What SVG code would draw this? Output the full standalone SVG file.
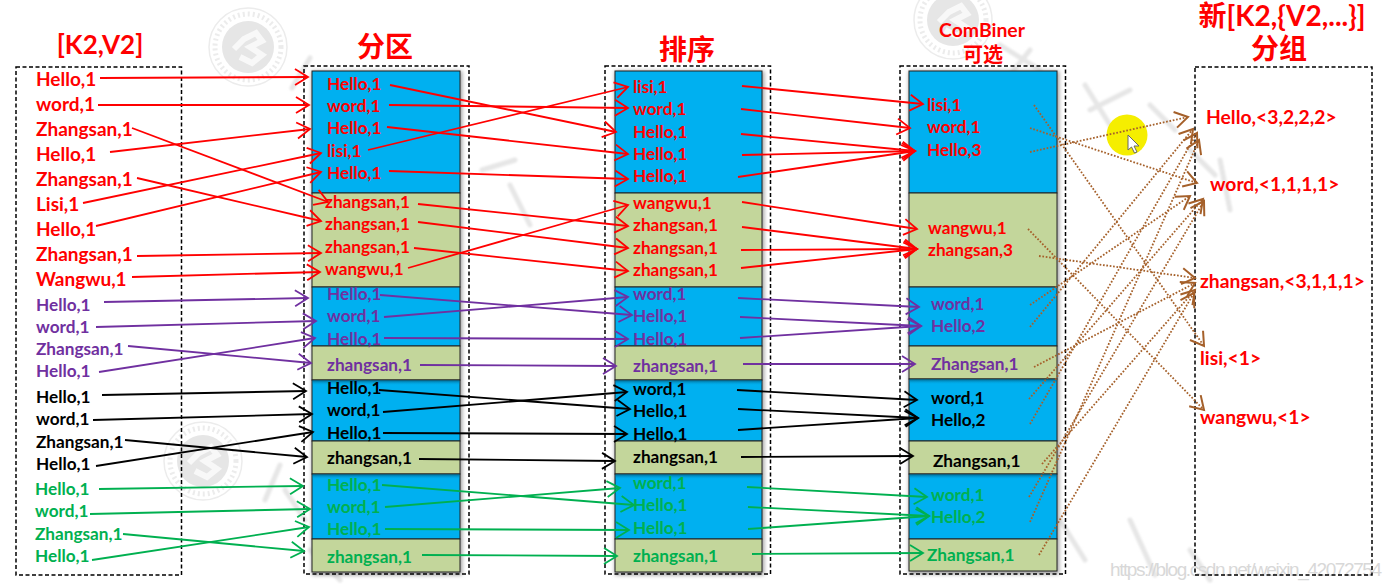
<svg xmlns="http://www.w3.org/2000/svg" width="1391" height="584" viewBox="0 0 1391 584">
<style>
text{font-family:"Lato","Liberation Sans","Noto Sans CJK SC",sans-serif;font-weight:700}
.t{font-family:"Noto Sans CJK SC","Liberation Sans",sans-serif;font-weight:700;fill:#f00;text-anchor:middle}
.r{fill:#f00}.p{fill:#7030a0}.k{fill:#000}.g{fill:#00b050}
.big{font-size:19px}.mid{font-size:17.2px}.res{font-size:19.3px}
.dash{fill:none;stroke:#000;stroke-width:1.5;stroke-dasharray:4 2.5}
.blue{fill:#00b0f0;stroke:#222;stroke-width:1}
.olive{fill:#c3d69b;stroke:#222;stroke-width:1}
.shade{fill:#999;filter:url(#blur)}
.top{fill:url(#topshade)}
.wm{fill:none;stroke:#e6e6e6;stroke-width:5;stroke-linecap:round;filter:url(#soft)}
.seal{fill:none;stroke:#ececec}
#cr path{stroke:#f00;marker-end:url(#mr)}#cp path{stroke:#7030a0;marker-end:url(#mp)}
#ck path{stroke:#000;marker-end:url(#mk)}#cg path{stroke:#00b050;marker-end:url(#mg)}
#cb path{stroke:#a5602a;stroke-dasharray:1.7 1.7;stroke-width:1.9;marker-end:url(#mb)}
#connectors path{fill:none;stroke-width:1.8}
</style>
<defs>
<filter id="blur" x="-10%" y="-10%" width="120%" height="120%"><feGaussianBlur stdDeviation="2"/></filter>
<filter id="soft" x="-5%" y="-5%" width="110%" height="110%"><feGaussianBlur stdDeviation="1"/></filter>
<linearGradient id="topshade" x1="0" y1="0" x2="0" y2="1"><stop offset="0" stop-color="#03506f" stop-opacity=".7"/><stop offset="1" stop-color="#00b0f0" stop-opacity="0"/></linearGradient>
<marker id="mr" markerUnits="userSpaceOnUse" markerWidth="18" markerHeight="20" refX="15" refY="10" orient="auto"><path d="M2 2L15 10L2 18" fill="none" stroke="#f00" stroke-width="1.8"/></marker>
<marker id="mp" markerUnits="userSpaceOnUse" markerWidth="18" markerHeight="20" refX="15" refY="10" orient="auto"><path d="M2 2L15 10L2 18" fill="none" stroke="#7030a0" stroke-width="1.8"/></marker>
<marker id="mk" markerUnits="userSpaceOnUse" markerWidth="18" markerHeight="20" refX="15" refY="10" orient="auto"><path d="M2 2L15 10L2 18" fill="none" stroke="#000" stroke-width="1.8"/></marker>
<marker id="mg" markerUnits="userSpaceOnUse" markerWidth="18" markerHeight="20" refX="15" refY="10" orient="auto"><path d="M2 2L15 10L2 18" fill="none" stroke="#00b050" stroke-width="1.8"/></marker>
<marker id="mb" markerUnits="userSpaceOnUse" markerWidth="18" markerHeight="20" refX="15" refY="10" orient="auto"><path d="M2 2L15 10L2 18" fill="none" stroke="#a5602a" stroke-width="2"/></marker>
<g id="sealmark"><circle r="39" class="seal" stroke-width="1.5"/><circle r="33" class="seal" stroke-width="5" stroke-dasharray="2 3"/><circle r="26" fill="#e6e6e6"/><path d="M-14 2L-4 -8L8 -14L14 -6L2 0L14 8L4 16L-8 10" fill="none" stroke="#f8f8f8" stroke-width="6"/></g>
</defs>

<g id="watermark">
<use href="#sealmark" x="248" y="47"/>
<use href="#sealmark" x="203" y="461"/>
<use href="#sealmark" x="953" y="20"/>
<path class="wm" d="M310 58L292 88M345 98L335 125M482 170L515 160M510 185L530 225M1030 50L1010 75M1000 45L1040 70M1085 85L1110 125M1090 110L1130 90M1150 105L1175 130M1190 150L1215 175M1220 160L1230 210M1060 520L1085 560M1130 520L1155 575M1190 550L1210 580M280 465L265 500M285 490L305 520M310 550L340 580"/>
<text x="1110" y="576" font-size="19" style="font-family:'Liberation Sans',sans-serif;font-weight:400" fill="#d8d8d8" textLength="272">https://blog.csdn.net/weixin_42072754</text>
</g>

<g id="titles">
<text class="t" x="100" y="54" font-size="26" style="font-family:Lato,sans-serif">[K2,V2]</text>
<text class="t" x="385" y="57" font-size="28">分区</text>
<text class="t" x="687" y="60" font-size="28">排序</text>
<text class="t" x="982" y="37" font-size="19.400" style="font-family:Lato,sans-serif">ComBiner</text>
<text class="t" x="983" y="62" font-size="20">可选</text>
<text class="t" x="1282" y="26" font-size="28" style="font-family:Lato,'Noto Sans CJK SC',sans-serif">新[K2,{V2,...}]</text>
<text class="t" x="1279" y="59" font-size="28">分组</text>
</g>

<g id="input-kv">
<rect class="dash" x="16" y="67" width="165.500" height="508"/>
<g class="r big"><text x="36" y="86">Hello,1</text><text x="36" y="111">word,1</text><text x="36" y="136">Zhangsan,1</text><text x="36" y="161">Hello,1</text><text x="36" y="186">Zhangsan,1</text><text x="36" y="211">Lisi,1</text><text x="36" y="236">Hello,1</text><text x="36" y="261">Zhangsan,1</text><text x="36" y="286">Wangwu,1</text></g>
<g class="p mid"><text x="36" y="311">Hello,1</text><text x="36" y="333">word,1</text><text x="36" y="355">Zhangsan,1</text><text x="36" y="377">Hello,1</text></g>
<g class="k mid"><text x="36" y="403">Hello,1</text><text x="36" y="425">word,1</text><text x="36" y="448">Zhangsan,1</text><text x="36" y="470">Hello,1</text></g>
<g class="g mid"><text x="35" y="495">Hello,1</text><text x="35" y="517">word,1</text><text x="35" y="540">Zhangsan,1</text><text x="35" y="562">Hello,1</text></g>
</g>

<g id="partition">
<rect class="shade" x="312" y="71" width="150" height="504"/>
<rect class="blue" x="312" y="71" width="148" height="122"/><rect class="olive" x="312" y="193" width="148" height="94"/><rect class="blue" x="312" y="287" width="148" height="59"/><rect class="olive" x="312" y="346" width="148" height="34"/><rect class="blue" x="312" y="380" width="148" height="61"/><rect class="olive" x="312" y="441" width="148" height="33"/><rect class="blue" x="312" y="474" width="148" height="65"/><rect class="olive" x="312" y="539" width="148" height="33"/>
<rect class="top" x="312.500" y="380.500" width="147" height="5"/><rect class="top" x="312.500" y="474.500" width="147" height="5"/>
<rect class="dash" x="304" y="66" width="165" height="508"/>
<g class="r mid"><text x="327" y="90">Hello,1</text><text x="327" y="112">word,1</text><text x="327" y="134">Hello,1</text><text x="327" y="157">lisi,1</text><text x="327" y="179">Hello,1</text><text x="325" y="208">zhangsan,1</text><text x="325" y="230">zhangsan,1</text><text x="325" y="253">zhangsan,1</text><text x="325" y="275">wangwu,1</text></g>
<g class="p mid"><text x="327" y="300">Hello,1</text><text x="327" y="322">word,1</text><text x="327" y="345">Hello,1</text><text x="327" y="371">zhangsan,1</text></g>
<g class="k mid"><text x="327" y="394">Hello,1</text><text x="327" y="416">word,1</text><text x="327" y="439">Hello,1</text><text x="327" y="464">zhangsan,1</text></g>
<g class="g mid"><text x="327" y="491">Hello,1</text><text x="327" y="513">word,1</text><text x="327" y="535">Hello,1</text><text x="327" y="563">zhangsan,1</text></g>
</g>

<g id="sort">
<rect class="shade" x="615" y="71" width="149" height="504"/>
<rect class="blue" x="615" y="71" width="147" height="122"/><rect class="olive" x="615" y="193" width="147" height="94"/><rect class="blue" x="615" y="287" width="147" height="59"/><rect class="olive" x="615" y="346" width="147" height="34"/><rect class="blue" x="615" y="380" width="147" height="61"/><rect class="olive" x="615" y="441" width="147" height="33"/><rect class="blue" x="615" y="474" width="147" height="65"/><rect class="olive" x="615" y="539" width="147" height="33"/>
<rect class="top" x="615.500" y="380.500" width="146" height="5"/><rect class="top" x="615.500" y="474.500" width="146" height="5"/>
<rect class="dash" x="605" y="66" width="165.500" height="508"/>
<g class="r mid"><text x="633" y="93">lisi,1</text><text x="633" y="115">word,1</text><text x="633" y="138">Hello,1</text><text x="633" y="160">Hello,1</text><text x="633" y="182">Hello,1</text><text x="633" y="209">wangwu,1</text><text x="633" y="231">zhangsan,1</text><text x="633" y="254">zhangsan,1</text><text x="633" y="276">zhangsan,1</text></g>
<g class="p mid"><text x="633" y="300">word,1</text><text x="633" y="322">Hello,1</text><text x="633" y="345">Hello,1</text><text x="633" y="372">zhangsan,1</text></g>
<g class="k mid"><text x="633" y="395">word,1</text><text x="633" y="417">Hello,1</text><text x="633" y="440">Hello,1</text><text x="633" y="463">zhangsan,1</text></g>
<g class="g mid"><text x="633" y="489">word,1</text><text x="633" y="511">Hello,1</text><text x="633" y="534">Hello,1</text><text x="633" y="562">zhangsan,1</text></g>
</g>

<g id="combiner">
<rect class="shade" x="909" y="71" width="150" height="503"/>
<rect class="blue" x="909" y="71" width="148" height="122"/><rect class="olive" x="909" y="193" width="148" height="94"/><rect class="blue" x="909" y="287" width="148" height="59"/><rect class="olive" x="909" y="346" width="148" height="33"/><rect class="blue" x="909" y="379" width="148" height="62"/><rect class="olive" x="909" y="441" width="148" height="33"/><rect class="blue" x="909" y="474" width="148" height="65"/><rect class="olive" x="909" y="539" width="148" height="32"/>
<rect class="top" x="909.500" y="379.500" width="147" height="5"/><rect class="top" x="909.500" y="474.500" width="147" height="5"/>
<rect class="dash" x="900" y="66" width="165.500" height="508"/>
<g class="r mid"><text x="927" y="111">lisi,1</text><text x="927" y="133">word,1</text><text x="927" y="156">Hello,3</text><text x="928" y="234">wangwu,1</text><text x="928" y="256">zhangsan,3</text></g>
<g class="p mid"><text x="931" y="310">word,1</text><text x="931" y="332">Hello,2</text><text x="931" y="370">Zhangsan,1</text></g>
<g class="k mid"><text x="931" y="404">word,1</text><text x="931" y="426">Hello,2</text><text x="933" y="467">Zhangsan,1</text></g>
<g class="g mid"><text x="931" y="501">word,1</text><text x="931" y="523">Hello,2</text><text x="927" y="561">Zhangsan,1</text></g>
</g>

<g id="grouped">
<rect class="dash" x="1195" y="67" width="177" height="508"/>
<g class="r res"><text x="1206" y="124">Hello,&lt;3,2,2,2&gt;</text><text x="1210" y="191">word,&lt;1,1,1,1&gt;</text><text x="1200" y="288">zhangsan,&lt;3,1,1,1&gt;</text><text x="1200" y="365">lisi,&lt;1&gt;</text><text x="1200" y="424">wangwu,&lt;1&gt;</text></g>
</g>

<g id="cursor-highlight"><circle cx="1127" cy="135" r="20.500" fill="#f5ee00"/></g>

<g id="connectors">
<g id="cr">
<path d="M100 78L308 77"/><path d="M98 105L309 105"/><path d="M132 128L328 202"/><path d="M110 152L310 129"/><path d="M137 178L321 221"/><path d="M83 203L321 153"/><path d="M96 226L321 172"/><path d="M137 256L321 253"/><path d="M132 277L320 272"/>
<path d="M390 85L616 132"/><path d="M389 105L628 108"/><path d="M387 127L628 154"/><path d="M368 150L628 87"/><path d="M389 171L628 179"/><path d="M418 204L628 226"/><path d="M418 222L628 248"/><path d="M414 248L628 271"/><path d="M408 268L628 205"/>
<path d="M742 86L923 104"/><path d="M741 109L910 128"/><path d="M741 134L915 151"/><path d="M742 155L915 151"/><path d="M738 177L915 151"/><path d="M742 202L917 229"/><path d="M742 227L917 249"/><path d="M741 250L917 249"/><path d="M741 268L917 249"/>
</g>
<g id="cp">
<path d="M104 302L308 298"/><path d="M96 327L316 321"/><path d="M128 346L311 363"/><path d="M99 372L315 338"/>
<path d="M380 295L632 315"/><path d="M384 317L628 297"/><path d="M384 338L628 339"/><path d="M420 365L616 366"/>
<path d="M738 298L919 307"/><path d="M740 317L921 326"/><path d="M740 338L921 326"/><path d="M743 364L915 364"/>
</g>
<g id="ck">
<path d="M102 395L306 391"/><path d="M93 420L312 414"/><path d="M125 440L307 457"/><path d="M96 466L313 432"/>
<path d="M379 390L630 409"/><path d="M383 412L627 392"/><path d="M383 433L627 434"/><path d="M419 459L615 461"/>
<path d="M737 390L917 400"/><path d="M738 409L918 418"/><path d="M738 430L918 418"/><path d="M741 457L913 456"/>
</g>
<g id="cg">
<path d="M99 489L303 486"/><path d="M90 514L310 509"/><path d="M123 534L304 551"/><path d="M92 560L309 527"/>
<path d="M382 485L634 505"/><path d="M385 507L620 488"/><path d="M385 529L629 530"/><path d="M422 555L617 556"/>
<path d="M747 487L927 497"/><path d="M748 507L929 516"/><path d="M748 529L929 516"/><path d="M752 554L923 553"/>
</g>
<g id="cb">
<path d="M1034 105L1204 346"/><path d="M1030 128L1197 183"/><path d="M1030 152L1188 117"/><path d="M1028 229L1204 410"/><path d="M1039 256L1195 278"/>
<path d="M1030 305L1190 196"/><path d="M1030 327L1193 129"/><path d="M1034 367L1195 283"/>
<path d="M1029 399L1203 199"/><path d="M1030 424L1197 133"/><path d="M1042 464L1195 290"/>
<path d="M1029 497L1204 201"/><path d="M1030 522L1199 140"/><path d="M1039 555L1194 293"/>
</g>
</g>

<g id="cursor"><path d="M1128 135L1128 150L1131.500 147L1134.500 153L1137 152L1134 146L1139 146Z" fill="#fff" stroke="#666" stroke-width="1"/></g>
</svg>
